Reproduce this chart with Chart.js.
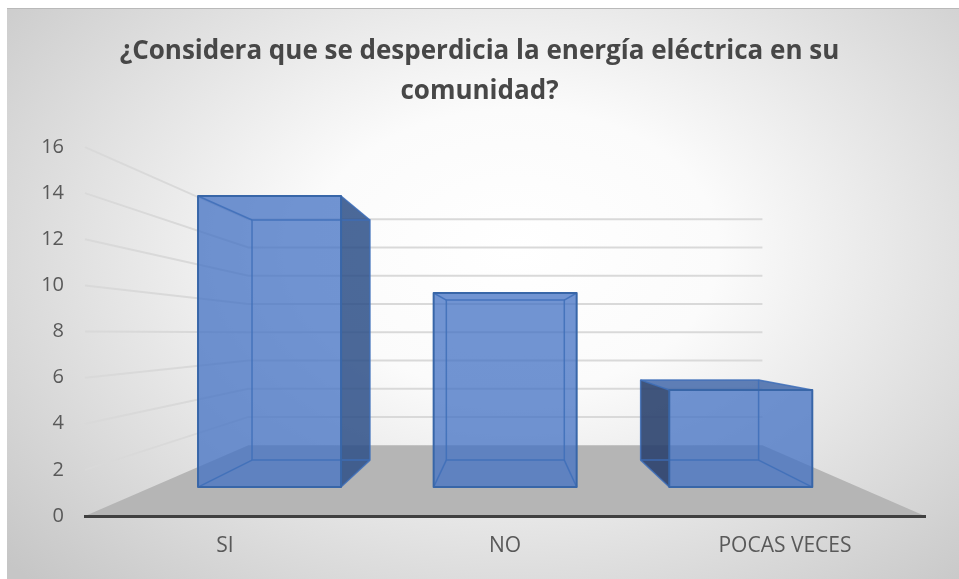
<!DOCTYPE html>
<html>
<head>
<meta charset="utf-8">
<script src="https://cdn.jsdelivr.net/npm/chart.js@4.4.1/dist/chart.umd.min.js"></script>
<style>
  html, body { margin: 0; padding: 0; background: #ffffff; }
  #wrap { width: 959px; height: 579px; }
</style>
</head>
<body>
<div id="wrap"><canvas id="chart" width="959" height="579"></canvas></div>
<script>
// data
const categories = ['SI', 'NO', 'POCAS VECES'];
const counts = [15, 10, 5];
const yTicks = [0, 2, 4, 6, 8, 10, 12, 14, 16];
const titleLines = ['¿Considera que se desperdicia la energía eléctrica en su', 'comunidad?'];

// 3d look: depth scales towards a vanishing point
const FLOOR_BACK = 0.612
const BAR_FRONT = 0.8415
const BAR_BACK = 0.694

function vanish(area) {
    return { x: (area.left + area.right) / 2 + 1, y: area.top + area.height * 0.505 }
}
function proj(vp, x, y, s) {
    return [vp.x + s * (x - vp.x), vp.y + s * (y - vp.y)]
}
function poly(ctx, pts) {
    ctx.beginPath()
    pts.forEach((p, i) => i ? ctx.lineTo(p[0], p[1]) : ctx.moveTo(p[0], p[1]))
    ctx.closePath()
}
function hull(pts) {
    const p = pts.slice().sort((a, b) => a[0] - b[0] || a[1] - b[1])
    const cross = (o, a, b) => (a[0] - o[0]) * (b[1] - o[1]) - (a[1] - o[1]) * (b[0] - o[0])
    const lo = [], up = []
    p.forEach(q => { while (lo.length >= 2 && cross(lo[lo.length - 2], lo[lo.length - 1], q) <= 0) lo.pop(); lo.push(q) })
    p.slice().reverse().forEach(q => { while (up.length >= 2 && cross(up[up.length - 2], up[up.length - 1], q) <= 0) up.pop(); up.push(q) })
    return lo.slice(0, -1).concat(up.slice(0, -1))
}

const scenePlugin = {
    id: 'scene',
    beforeDraw(chart) {
        const ctx = chart.ctx
        const area = chart.chartArea
        const ys = chart.scales.y
        const vp = vanish(area)
        ctx.save()
        // background
        ctx.fillStyle = '#ffffff'
        ctx.fillRect(0, 0, chart.width, chart.height)
        ctx.save()
        ctx.beginPath()
        ctx.rect(7, 8, chart.width - 7, chart.height - 8)
        ctx.clip()
        ctx.translate(515, 250)
        ctx.scale(1.45, 1)
        const g = ctx.createRadialGradient(0, 0, 0, 0, 0, 470)
        g.addColorStop(0, '#ffffff')
        g.addColorStop(0.3, '#fbfbfb')
        g.addColorStop(1, '#c6c6c6')
        ctx.fillStyle = g
        ctx.fillRect(-500, -300, 1000, 700)
        ctx.restore()
        ctx.fillStyle = '#b9b9b9'
        ctx.fillRect(7, 8, chart.width - 7, 1)

        // wall gridlines
        ctx.strokeStyle = '#d9d9d9'
        ctx.lineWidth = 2
        yTicks.forEach(v => {
            if (v === 0) return
            const y = ys.getPixelForValue(v)
            const a = proj(vp, area.left, y, FLOOR_BACK)
            const b = proj(vp, area.right, y, FLOOR_BACK)
            ctx.beginPath()
            ctx.moveTo(area.left, y)
            ctx.lineTo(a[0], a[1])
            ctx.lineTo(b[0], b[1])
            ctx.stroke()
        })

        // floor
        const y0 = ys.getPixelForValue(0)
        poly(ctx, [[area.left, y0], [area.right, y0],
            proj(vp, area.right, y0, FLOOR_BACK), proj(vp, area.left, y0, FLOOR_BACK)])
        ctx.fillStyle = '#b5b5b5'
        ctx.fill()
        ctx.restore()
    },
    afterDatasetsDraw(chart) {
        const ctx = chart.ctx
        const vp = vanish(chart.chartArea)
        const bars = chart.getDatasetMeta(0).data
        ctx.save()
        bars.forEach(bar => {
            const p = bar.getProps(['x', 'y', 'base', 'width'], true)
            const xl = p.x - p.width / 2, xr = p.x + p.width / 2
            const yt = p.y, yb = p.base
            const F = [[xl, yt], [xr, yt], [xr, yb], [xl, yb]].map(c => proj(vp, c[0], c[1], BAR_FRONT))
            const B = [[xl, yt], [xr, yt], [xr, yb], [xl, yb]].map(c => proj(vp, c[0], c[1], BAR_BACK))

            // body
            poly(ctx, hull(F.concat(B)))
            ctx.fillStyle = 'rgba(68,114,196,0.76)'
            ctx.fill()

            // visible side and top faces
            if (F[0][0] > vp.x) {
                poly(ctx, [F[0], B[0], B[3], F[3]])
                ctx.fillStyle = 'rgba(25,35,55,0.55)'
                ctx.fill()
            }
            if (F[1][0] < vp.x) {
                poly(ctx, [F[1], B[1], B[2], F[2]])
                ctx.fillStyle = 'rgba(25,45,75,0.42)'
                ctx.fill()
            }
            if (F[0][1] > vp.y) {
                poly(ctx, [F[0], F[1], B[1], B[0]])
                ctx.fillStyle = 'rgba(30,50,80,0.2)'
                ctx.fill()
            }

            // edges
            ctx.lineJoin = 'round'
            ctx.strokeStyle = 'rgba(62,110,185,0.85)'
            ctx.lineWidth = 1.5
            poly(ctx, B)
            ctx.stroke()
            for (let i = 0; i < 4; i++) {
                ctx.beginPath()
                ctx.moveTo(F[i][0], F[i][1])
                ctx.lineTo(B[i][0], B[i][1])
                ctx.stroke()
            }
            ctx.strokeStyle = '#3866a8'
            ctx.lineWidth = 2
            poly(ctx, F)
            ctx.stroke()
        })
        ctx.restore()
    }
}

const ctx = document.getElementById('chart').getContext('2d')
const chart = new Chart(ctx, {
    type: 'bar',
    data: {
        labels: categories,
        datasets: [{
            label: 'Respuestas',
            data: counts,
            backgroundColor: 'rgba(0,0,0,0)',
            borderWidth: 0,
            categoryPercentage: 1,
            barPercentage: 0.607
        }]
    },
    options: {
        responsive: false,
        animation: false,
        layout: {
            padding: { left: 34, right: 34, top: 10, bottom: 10 }
        },
        plugins: {
            legend: { display: false },
            tooltip: { enabled: false },
            title: {
                display: true,
                text: titleLines,
                color: '#474747',
                font: { family: 'Open Sans', size: 26, weight: 'bold', lineHeight: 1.52 },
                padding: { top: 22, bottom: 36 }
            }
        },
        scales: {
            x: {
                grid: { display: false, drawTicks: false },
                border: { display: true, color: '#404040', width: 3 },
                ticks: { color: '#595959', font: { family: 'Open Sans', size: 21 }, padding: 17 },
                afterFit(scale) { scale.height = 53 }
            },
            y: {
                min: 0,
                max: 16,
                grid: { display: false, drawTicks: false },
                border: { display: false },
                ticks: { stepSize: 2, color: '#595959', font: { family: 'Open Sans', size: 20 }, padding: 21 },
                afterFit(scale) { scale.width = 51 }
            }
        }
    },
    plugins: [scenePlugin]
});
</script>
</body>
</html>
